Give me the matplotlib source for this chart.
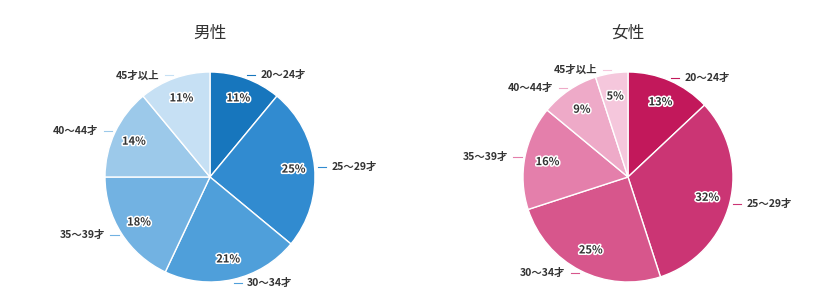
import matplotlib.pyplot as plt
import matplotlib.patheffects as pe
import numpy as np

plt.rcParams['font.family'] = ['Noto Sans CJK JP', 'DejaVu Sans']

# Data
age_groups = ["20～24才", "25～29才", "30～34才", "35～39才", "40～44才", "45才以上"]
male_share = [11, 25, 21, 18, 14, 11]
female_share = [13, 32, 25, 16, 9, 5]

male_colors = ["#1776bd", "#318bd0", "#4f9fda", "#72b2e2", "#9cc9ea", "#c6e0f4"]
female_colors = ["#c2185b", "#cb3574", "#d7568c", "#e47fab", "#eeaac8", "#f5c7dc"]

W, H = 837, 302
fig = plt.figure(figsize=(W / 100, H / 100), dpi=100)


def draw_pie(cx, cy, r, values, colors, title, pct_r):
    ax = fig.add_axes([(cx - r) / W, 1 - (cy + r) / H, 2 * r / W, 2 * r / H])
    wedges, _ = ax.pie(values, colors=colors, startangle=90, counterclock=False,
                       wedgeprops=dict(edgecolor="white", linewidth=1))
    ax.set_xlim(-1, 1)
    ax.set_ylim(-1, 1)
    ax.set_aspect("equal")
    ax.axis("off")

    for w, v, lab, col in zip(wedges, values, age_groups, colors):
        ang = np.deg2rad((w.theta1 + w.theta2) / 2)
        c, s = np.cos(ang), np.sin(ang)
        # percent inside
        ax.text(pct_r * c, pct_r * s, f"{v}%", ha="center", va="center",
                fontsize=8, fontweight="bold", color="#333333",
                path_effects=[pe.withStroke(linewidth=2.2, foreground="white")])
        # outside label with short connector
        sign = 1 if c >= 0 else -1
        x0, y0 = 1.03 * c, 1.03 * s
        x1 = x0 + sign * 0.08
        ax.plot([x0, x1], [y0, y0], color=col, lw=0.8, clip_on=False)
        ax.text(x1 + sign * 0.05, y0, lab, ha="left" if sign > 0 else "right",
                va="center", fontsize=7.5, fontweight="bold", color="#333333",
                clip_on=False)

    fig.text(cx / W, 1 - 33 / H, title, ha="center", va="center",
             fontsize=12, color="#333333")


draw_pie(210, 177, 105, male_share, male_colors, "男性", 0.8)
draw_pie(628, 177, 105, female_share, female_colors, "女性", 0.78)

fig.savefig("out.png", dpi=100)
